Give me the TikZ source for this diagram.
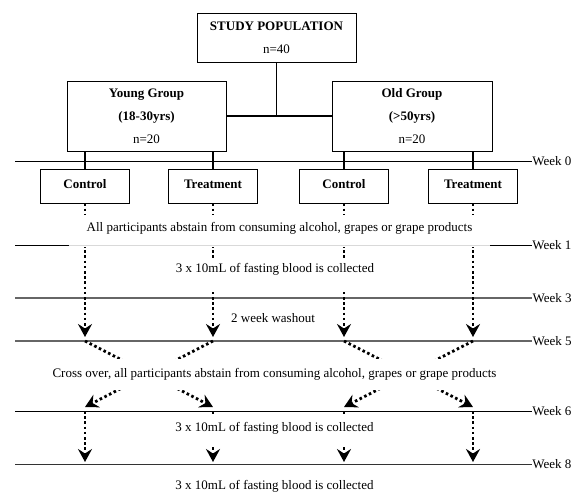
\documentclass[tikz,border=0pt]{standalone}
\usepackage{fontspec}
\setmainfont{Liberation Serif}
\usetikzlibrary{arrows.meta,calc}
\tikzset{
    box/.style={draw, line width=0.8pt, align=center, inner sep=0pt},
    smallbox/.style={box, minimum width=89pt, minimum height=34pt, text height=9pt, text depth=5pt},
    link/.style={line width=1.8pt},
    week/.style={line width=0.8pt},
    weekgray/.style={line width=1.2pt, black!60},
    weeklab/.style={anchor=west, inner sep=0pt},
    dotarrow/.style={line width=2.8pt, dash pattern=on 2.6pt off 2.6pt, -{Stealth[length=13pt, width=14pt, inset=4.5pt]}},
    cover/.style={fill=white, inner sep=0pt, text height=9pt, text depth=3pt}
}
\begin{document}
\begin{tikzpicture}[x=1pt, y=-1pt, font=\fontsize{13}{23}\selectfont]
        \useasboundingbox (0,0) rectangle (578,491);

        \def\colA{85}
        \def\colB{213}
        \def\colC{344}
        \def\colD{473}
        \def\lft{15}
        \def\rgt{532}

        \coordinate (w0) at (\lft, 161);  \coordinate (w0e) at (\rgt, 161);
        \coordinate (w1) at (\lft, 245);  \coordinate (w1e) at (\rgt, 245);
        \coordinate (w3) at (\lft, 298);  \coordinate (w3e) at (\rgt, 298);
        \coordinate (w5) at (\lft, 341);  \coordinate (w5e) at (\rgt, 341);
        \coordinate (w6) at (\lft, 411);  \coordinate (w6e) at (\rgt, 411);
        \coordinate (w8) at (\lft, 464);  \coordinate (w8e) at (\rgt, 464);

        % week lines
        \draw[week] (w0) -- (w0e) node[weeklab] (l0) {Week 0};
        \draw[weekgray] (w3) -- (w3e) node[weeklab, black] (l3) {Week 3};
        \draw[weekgray] (w5) -- (w5e) node[weeklab, black] (l5) {Week 5};
        \draw[week] (w6) -- (w6e) node[weeklab] (l6) {Week 6};
        \draw[week, black!80] (w8) -- (w8e) node[weeklab, black] (l8) {Week 8};

        % boxes
        \node[box, minimum width=159pt, minimum height=49pt] (pop) at (276.5, 37.5) {\textbf{STUDY POPULATION}\\n=40};
        \node[box, minimum width=159pt, minimum height=70pt] (young) at (146.5, 116) {\textbf{Young Group}\\\textbf{(18-30yrs)}\\n=20};
        \node[box, minimum width=160pt, minimum height=70pt] (old) at (412, 116) {\textbf{Old Group}\\\textbf{(>50yrs)}\\n=20};

        \node[smallbox] (ctlA) at (\colA, 186) {\textbf{Control}};
        \node[smallbox] (trtA) at (\colB, 186) {\textbf{Treatment}};
        \node[smallbox] (ctlB) at (\colC, 186) {\textbf{Control}};
        \node[smallbox] (trtB) at (\colD, 186) {\textbf{Treatment}};

        \draw[link] (pop) -- (pop |- young.east);
        \draw[link] (young) -- (old);
        \draw[link] (young.south -| ctlA) -- (ctlA);
        \draw[link] (young.south -| trtA) -- (trtA);
        \draw[link] (old.south -| ctlB) -- (ctlB);
        \draw[link] (old.south -| trtB) -- (trtB);

        % week 0 to week 5
        \draw[dotarrow, shorten >=4pt] (ctlA) -- (ctlA |- w5);
        \draw[dotarrow, shorten >=4pt] (trtA) -- (trtA |- w5);
        \draw[dotarrow, shorten >=4pt] (ctlB) -- (ctlB |- w5);
        \draw[dotarrow, shorten >=4pt] (trtB) -- (trtB |- w5);

        % cross over
        \draw[dotarrow] (ctlA |- w5) -- ($(trtA |- w6)+(0,-4)$);
        \draw[dotarrow] (trtA |- w5) -- ($(ctlA |- w6)+(0,-4)$);
        \draw[dotarrow] (ctlB |- w5) -- ($(trtB |- w6)+(0,-4)$);
        \draw[dotarrow] (trtB |- w5) -- ($(ctlB |- w6)+(0,-4)$);

        % week 6 to week 8
        \draw[dotarrow, shorten >=2pt] (ctlA |- w6) -- (ctlA |- w8);
        \draw[dotarrow, shorten >=2pt] (trtA |- w6) -- (trtA |- w8);
        \draw[dotarrow, shorten >=2pt] (ctlB |- w6) -- (ctlB |- w8);
        \draw[dotarrow, shorten >=2pt] (trtB |- w6) -- (trtB |- w8);

        % notes
        \node[cover, minimum width=421pt, minimum height=32pt, text depth=9pt] (abstain) at (279.5, 231) {All participants abstain from consuming alcohol, grapes or grape products};
        \node[cover, minimum width=250pt, minimum height=34pt, text depth=14pt] (bloodA) at (275, 275) {3 x 10mL of fasting blood is collected};
        \node[cover] (washout) at (273, 319) {2 week washout};
        \node[cover, minimum width=470pt, minimum height=31pt] (cross) at (274.5, 374.5) {Cross over, all participants abstain from consuming alcohol, grapes or grape products};
        \node[cover, minimum width=250pt, minimum height=31pt, text depth=6pt] (bloodB) at (274.5, 429.5) {3 x 10mL of fasting blood is collected};
        \node[cover] (bloodC) at (274.5, 486) {3 x 10mL of fasting blood is collected};

        \draw[week] (w1) -- (w1 -| abstain.west);
        \draw[black!15, line width=0.6pt] (w1 -| abstain.west) -- (abstain.east |- w1);
        \draw[week] (abstain.east |- w1) -- (w1e) node[weeklab] (l1) {Week 1};
    \end{tikzpicture}
\end{document}
